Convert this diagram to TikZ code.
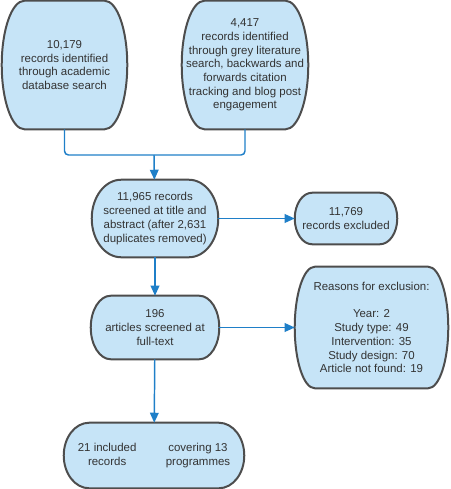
\documentclass[tikz,border=0pt]{standalone}
\usepackage{fontspec}
\setmainfont{Liberation Sans}
\usetikzlibrary{arrows.meta,calc,backgrounds}
\definecolor{boxfill}{HTML}{C6E4F7}
\definecolor{boxline}{HTML}{4D4D4D}
\definecolor{flowline}{HTML}{1F7FC8}
\tikzset{
  stage/.style={align=center,inner sep=0pt,text=black!80,
    font=\fontsize{8.6}{10.3}\selectfont},
  flow/.style={draw=flowline,line width=1.1pt,
    -{Triangle[length=7.5pt,width=6.5pt]}},
}
% outline with half-ellipse ends round a node: #1 node, #2 x radius
\newcommand\stadium[2]{%
  \path[draw=boxline,fill=boxfill,line width=1.5pt]
    let \p1=(#1.north), \p2=(#1.south), \n1={(\y1-\y2)/2} in
    ([xshift=#2]#1.north west) -- ([xshift=-#2]#1.north east)
    arc[start angle=90,end angle=-90,x radius=#2,y radius=\n1]
    -- ([xshift=#2]#1.south west)
    arc[start angle=270,end angle=90,x radius=#2,y radius=\n1] -- cycle;}
\begin{document}
\begin{tikzpicture}[x=0.75pt,y=-0.75pt]
    \useasboundingbox (0,0) rectangle (450,489);

    \node[stage,minimum width=93.75pt,minimum height=96pt](db) at (64.5, 65)
      {10,179\\records identified\\through academic\\database search};
    \node[stage,minimum width=94.5pt,minimum height=96pt](grey) at (245, 65)
      {4,417\\records identified\\through grey literature\\search, backwards and\\forwards citation\\tracking and blog post\\engagement};

    \node[stage,minimum width=94.5pt,minimum height=57.75pt](screen) at (155, 218.5)
      {11,965 records\\screened at title and\\abstract (after 2,631\\duplicates removed)};
    \node[stage,minimum width=76.5pt,minimum height=38.25pt](excl) at (346, 218.5)
      {11,769\\records excluded};

    \node[stage,minimum width=96pt,minimum height=47.25pt](full) at (155, 327.5)
      {196\\articles screened at\\full-text};
    \node[stage,minimum width=114.75pt,minimum height=90.75pt](reasons) at (371.5, 327.5)
      {Reasons for exclusion:\\~\\Year: 2\\Study type: 49\\Intervention: 35\\Study design: 70\\Article not found: 19};

    \node[stage,minimum width=135pt,minimum height=48.75pt](incl) at (154, 455.5)
      {\begin{tabular}{c@{\hspace{22pt}}c}21 included & covering 13\\records & programmes\end{tabular}};

    \begin{scope}[on background layer,x=1pt,y=1pt]
      \stadium{db}{17pt}
      \stadium{grey}{17pt}
      \stadium{screen}{22pt}
      \stadium{excl}{13pt}
      \stadium{full}{15pt}
      \stadium{reasons}{15pt}
      \stadium{incl}{19pt}
    \end{scope}

    \coordinate (join) at (154, 155);

    \draw[draw=flowline,line width=1.1pt,rounded corners=3pt] (db.south) |- (join) -| (grey.south);
    \draw[flow] (join) -- (screen);
    \draw[flow] (screen) -- (excl);
    \draw[flow] (screen) -- (full);
    \draw[flow] (full) -- (reasons);
    \draw[flow] (full) -- (incl);
\end{tikzpicture}
\end{document}
